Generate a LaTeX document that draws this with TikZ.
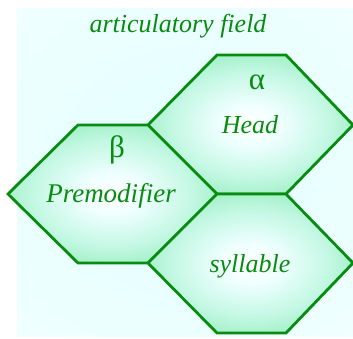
\documentclass[tikz,border=0pt]{standalone}
\usepackage{fontspec}
\setmainfont{Liberation Serif}
\begin{document}
\definecolor{edgegreen}{HTML}{088C10}
\definecolor{txtgreen}{HTML}{088C10}
\definecolor{mint}{HTML}{8EEBB4}
\definecolor{midmint}{HTML}{C4F8E4}
\definecolor{centre}{HTML}{F0FFFF}
\pgfdeclareradialshading{hexshade}{\pgfpoint{0bp}{0bp}}{color(0bp)=(white); color(7bp)=(centre); color(19bp)=(midmint); color(31bp)=(mint); color(50bp)=(mint)}
\pgfdeclareradialshading{backshade}{\pgfpoint{0bp}{0bp}}{color(0bp)=(cyan!11); color(30bp)=(cyan!7); color(50bp)=(cyan!2)}
\begin{tikzpicture}[x=1pt,y=-1pt,
  hexa/.style={draw=edgegreen,line width=2.8pt,line join=miter,shading=hexshade},
  lab/.style={text=txtgreen,font=\itshape\fontsize{26}{28}\selectfont,anchor=base,inner sep=0pt},
  greek/.style={text=txtgreen,font=\fontsize{31}{34}\selectfont,anchor=center,inner sep=0pt}]
\useasboundingbox (0,0) rectangle (353,338);
\fill[shading=backshade] (17,8) rectangle (353,336);
% hexagons
\path[hexa] (217,55) -- (286,55) -- (353,125) -- (286,194) -- (217,194) -- (148,125) -- cycle;
\path[hexa] (78,125) -- (148,125) -- (217,194) -- (148,263) -- (78,263) -- (8,194) -- cycle;
\path[hexa] (217,194) -- (286,194) -- (353,263) -- (286,333) -- (217,333) -- (148,263) -- cycle;
% texts
\node[lab] (title) at (178,32) {articulatory field};
\node[greek] (alpha) at (257,82) {α};
\node[lab] (head) at (250,133) {Head};
\node[greek] (beta) at (117,150) {β};
\node[lab,font=\itshape\fontsize{27}{28}\selectfont] (premod) at (111,202) {Premodifier};
\node[lab] (syll) at (250,272) {syllable};
\end{tikzpicture}
\end{document}
